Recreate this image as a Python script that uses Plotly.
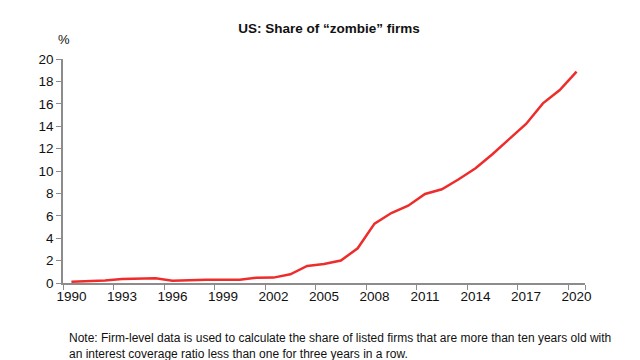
import plotly.graph_objects as go

years = [str(y) for y in range(1990, 2021)]
share = [0.12, 0.18, 0.22, 0.36, 0.40, 0.43, 0.20, 0.28, 0.30, 0.30, 0.28,
         0.47, 0.48, 0.78, 1.52, 1.70, 2.00, 3.10, 5.30, 6.25, 6.90,
         7.95, 8.37, 9.26, 10.24, 11.50, 12.83, 14.20, 16.04, 17.23, 18.87]
x_tick_labels = ["1990", "1993", "1996", "1999", "2002", "2005", "2008",
                 "2011", "2014", "2017", "2020"]
y_ticks = list(range(0, 21, 2))

title = "US: Share of “zombie” firms"
note = ("Note: Firm-level data is used to calculate the share of listed firms that are more than ten years old with<br>"
        "an interest coverage ratio less than one for three years in a row.")

font = "Liberation Sans, Arial, sans-serif"

# page is offset by the browser's 8px body margin; plot area spans 55..577 x 51..275 in figure px
L, R, T, B = 55, 577, 51, 275
W, H = R - L, B - T

fig = go.Figure()
fig.add_trace(go.Scatter(x=years, y=share, mode="lines",
                         line=dict(color="#EE2C2C", width=2.5),
                         hoverinfo="skip", showlegend=False))

fig.update_layout(
    width=640, height=360,
    margin=dict(l=L, r=640 - R, t=T, b=360 - B),
    paper_bgcolor="white", plot_bgcolor="white",
    font=dict(family=font, color="#111111"),
    title=dict(text="<b>" + title + "</b>", x=321 / 640, xanchor="center",
               y=1 - 20 / 360, yanchor="middle", font=dict(size=13.5, family=font)),
    xaxis=dict(type="category", tickmode="array", tickvals=x_tick_labels,
               ticktext=x_tick_labels, tickson="boundaries", tickangle=0,
               showgrid=False, showline=True, linecolor="#8c8c8c", linewidth=1.5,
               ticks="outside", ticklen=5, tickcolor="#8c8c8c", tickwidth=1,
               tickfont=dict(size=13.5, family=font, color="#111111"),
               range=[-0.5, 30.5], zeroline=False),
    yaxis=dict(range=[0, 20], tickvals=y_ticks, showgrid=False, showline=True,
               linecolor="#8c8c8c", linewidth=1.5, ticks="outside", ticklen=5,
               tickcolor="#8c8c8c", tickwidth=1, zeroline=False,
               tickfont=dict(size=13.5, family=font, color="#111111")),
    annotations=[
        dict(text="%", xref="paper", yref="paper", x=(56 - L) / W, y=(B - 32) / H,
             xanchor="center", yanchor="middle", showarrow=False,
             font=dict(size=13, family=font, color="#111111")),
        dict(text=note, xref="paper", yref="paper", x=(59 - L) / W,
             y=-(321 - B) / H, xanchor="left", yanchor="top",
             showarrow=False, align="left",
             font=dict(size=12, family=font, color="#111111")),
    ],
)

fig.write_html("out.html")
